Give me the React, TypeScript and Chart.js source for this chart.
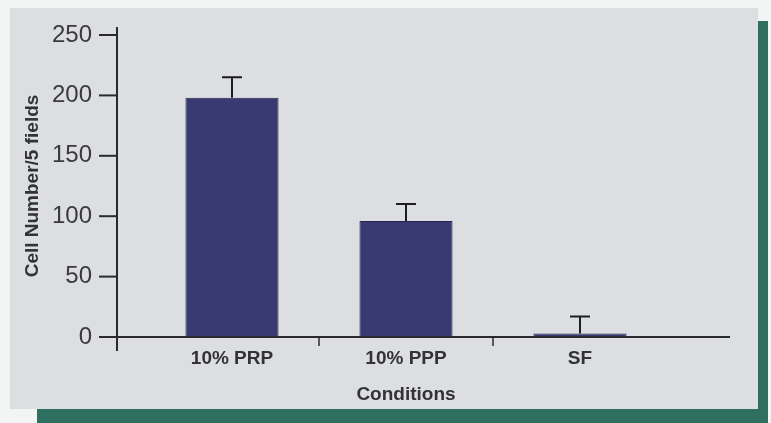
import React, { useEffect, useRef } from "react";
import { Chart, registerables } from "chart.js";

Chart.register(...registerables);

const categories = ["10% PRP", "10% PPP", "SF"];
const cellCounts = [198, 96, 3];
const errorUp = [17, 14, 14];
const yMin = 0;
const yMax = 250;
const yStep = 50;
const xTitle = "Conditions";
const yTitle = "Cell Number/5 fields";

export default function App() {
  const ref = useRef<HTMLCanvasElement>(null);

  useEffect(() => {
    const canvas = ref.current!;

    const bgPlugin = {
      id: "bgPanel",
      beforeDraw(chart: any) {
        const ctx = chart.ctx;
        ctx.save();
        ctx.fillStyle = "#f3f5f5";
        ctx.fillRect(0, 0, chart.width, chart.height);
        ctx.fillStyle = "#2f6f5f";
        ctx.fillRect(757, 21, 11, 402);
        ctx.fillRect(37, 409, 731, 14);
        ctx.fillStyle = "#dcdee2";
        ctx.fillRect(10, 8, 748, 401);
        ctx.restore();
      },
    };

    const axesPlugin = {
      id: "axesErr",
      afterDatasetsDraw(chart: any) {
        const ctx = chart.ctx;
        const xs = chart.scales.x;
        const ys = chart.scales.y;
        const area = chart.chartArea;
        const axisX = area.left - 28;
        const y0 = ys.getPixelForValue(0);
        ctx.save();
        ctx.strokeStyle = "#2a2a2a";
        ctx.lineWidth = 2;
        ctx.beginPath();
        ctx.moveTo(axisX, ys.getPixelForValue(yMax) - 8);
        ctx.lineTo(axisX, y0 + 14);
        ctx.stroke();
        ys.ticks.forEach((t: any) => {
          const py = ys.getPixelForValue(t.value);
          ctx.beginPath();
          ctx.moveTo(axisX - 18, py);
          ctx.lineTo(axisX, py);
          ctx.stroke();
        });
        ctx.beginPath();
        ctx.moveTo(axisX - 18, y0);
        ctx.lineTo(area.right + 63, y0);
        ctx.stroke();
        ctx.lineWidth = 1.5;
        for (let i = 0; i < categories.length - 1; i++) {
          const px = (xs.getPixelForValue(i) + xs.getPixelForValue(i + 1)) / 2;
          ctx.beginPath();
          ctx.moveTo(px, y0);
          ctx.lineTo(px, y0 + 9);
          ctx.stroke();
        }
        ctx.strokeStyle = "#1e1e1e";
        ctx.lineWidth = 2;
        const meta = chart.getDatasetMeta(0);
        meta.data.forEach((el: any, i: number) => {
          const top = ys.getPixelForValue(cellCounts[i] + errorUp[i]);
          ctx.beginPath();
          ctx.moveTo(el.x, el.y);
          ctx.lineTo(el.x, top);
          ctx.moveTo(el.x - 10, top);
          ctx.lineTo(el.x + 10, top);
          ctx.stroke();
        });
        ctx.restore();
      },
    };

    const chart = new Chart(canvas, {
      type: "bar",
      data: {
        labels: categories,
        datasets: [
          {
            data: cellCounts,
            backgroundColor: "#3a3a72",
            borderColor: "#26264e",
            borderWidth: 1,
            barPercentage: 0.535,
            categoryPercentage: 1,
          },
        ],
      },
      options: {
        responsive: false,
        animation: false,
        layout: { padding: { left: 10, right: 104, top: 35, bottom: 16 } },
        plugins: {
          legend: { display: false },
          tooltip: { enabled: false },
        },
        scales: {
          x: {
            grid: { display: false, drawTicks: false },
            border: { display: false },
            afterFit: (s: any) => {
              s.height = 70;
            },
            ticks: {
              padding: 10,
              color: "#333333",
              font: { family: "'Liberation Sans'", size: 19, weight: "bold" },
            },
            title: {
              display: true,
              text: xTitle,
              color: "#333333",
              font: { family: "'Liberation Sans'", size: 19, weight: "bold" },
              padding: { top: 0, bottom: 1 },
            },
          },
          y: {
            min: yMin,
            max: yMax,
            grid: {
              display: true,
              drawOnChartArea: false,
              drawTicks: true,
              tickLength: 53,
              color: "rgba(0,0,0,0)",
            },
            border: { display: false },
            afterFit: (s: any) => {
              s.width = 135;
            },
            ticks: {
              stepSize: yStep,
              padding: 0,
              color: "#3a3a3a",
              font: { family: "'Liberation Sans'", size: 24 },
            },
            title: {
              display: true,
              text: yTitle,
              color: "#333333",
              font: { family: "'Liberation Sans'", size: 19, weight: "bold" },
              padding: { top: 11, bottom: 0 },
            },
          },
        },
      },
      plugins: [bgPlugin, axesPlugin],
    });

    return () => chart.destroy();
  }, []);

  return (
    <div style={{ position: "absolute", left: 0, top: 0, width: 771, height: 423 }}>
      <canvas ref={ref} width={771} height={423} style={{ width: 771, height: 423, display: "block" }} />
    </div>
  );
}
